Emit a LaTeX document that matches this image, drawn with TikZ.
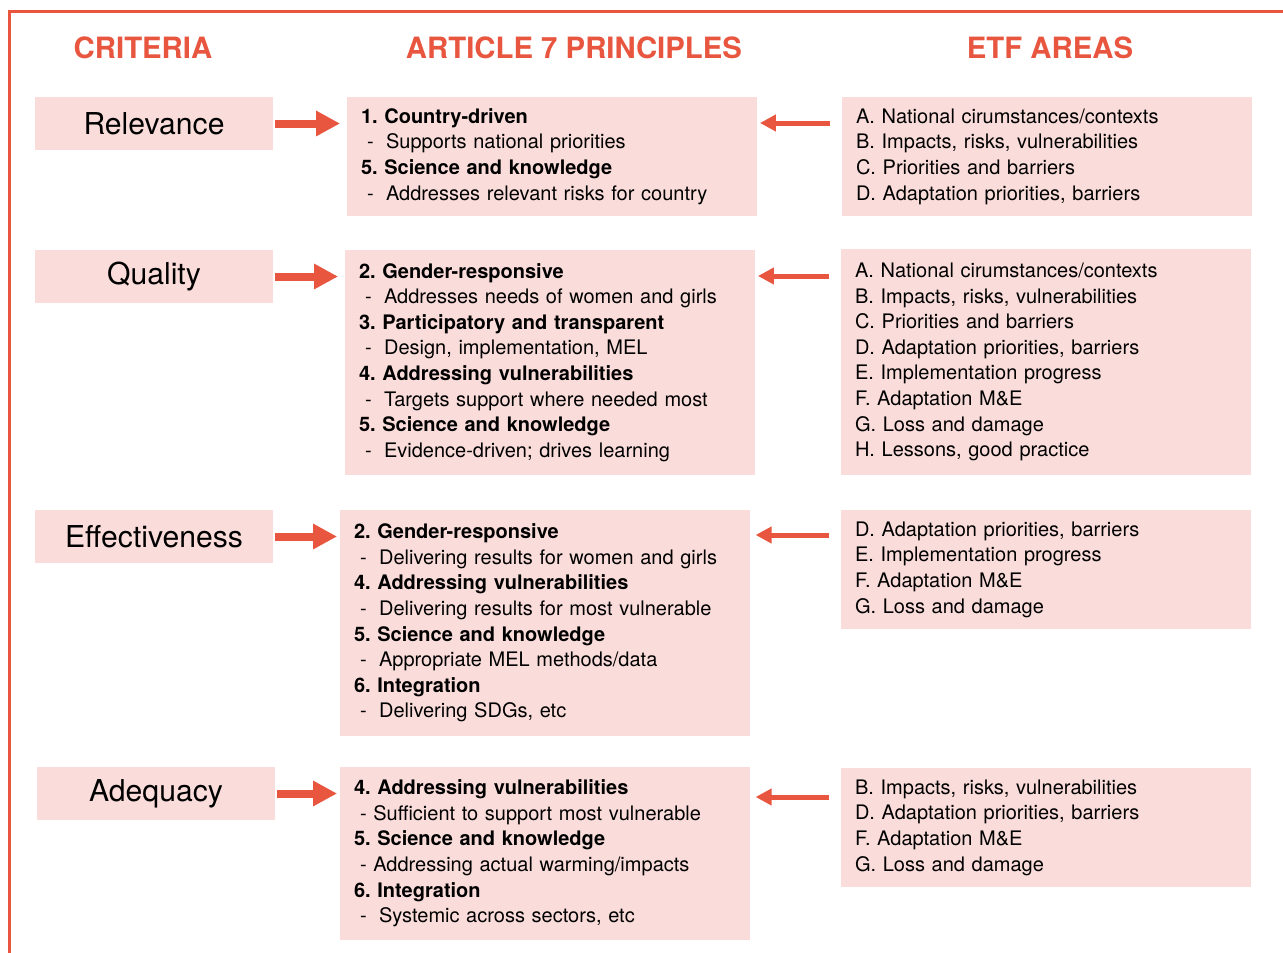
\documentclass[tikz,border=0pt]{standalone}
\usepackage{fontspec}
\setmainfont{TeX Gyre Heros}
\usetikzlibrary{arrows.meta}

\definecolor{etfred}{RGB}{232,86,64}
\definecolor{etfpink}{RGB}{250,221,218}

\newcommand{\itm}[1]{\hspace*{0.3em}-\hspace{0.62em}#1}
\newcommand{\itmb}[1]{\hspace*{0.3em}- #1}
\frenchspacing

\tikzset{
  head/.style={text=etfred, font=\fontsize{22}{26}\selectfont\bfseries},
  crit/.style={fill=etfpink, minimum width=178.5pt, minimum height=39.75pt,
    inner sep=0pt, font=\fontsize{22.6}{26}\selectfont},
  pbox/.style={fill=etfpink, text width=286.5pt, inner xsep=10.5pt, inner ysep=0pt,
    align=left, font=\fontsize{15}{19.2}\selectfont},
  bigarr/.style={draw=etfred, line width=6pt, -{Triangle[length=18pt,width=18pt]}},
  smallarr/.style={draw=etfred, line width=3.75pt, -{Triangle[length=12pt,width=12pt]}}
}

\begin{document}
\begin{tikzpicture}[x=0.75pt, y=-0.75pt]
  \useasboundingbox (0,0) rectangle (1283,953);
  \draw [etfred, line width=2.25pt] (9,953) -- (9,11) -- (1283,11);

  % column titles
  \node [head] (hcrit) at (143,48) {CRITERIA};
  \node [head] (hprin) at (574,48) {ARTICLE 7 PRINCIPLES};
  \node [head] (hetf) at (1050,48) {ETF AREAS};

  % criteria
  \node [crit] (r1) at (154,123.5) {Relevance};
  \node [crit] (r2) at (154,276.5) {Quality};
  \node [crit] (r3) at (154,536.5) {Effectiveness};
  \node [crit] (r4) at (156,793.5) {Adequacy};

  % principles
  \node [pbox, minimum height=89.25pt] (p1) at (552,156.5) {%
    \textbf{1. Country-driven}\\ \itm{Supports national priorities}\\
    \textbf{5. Science and knowledge}\\ \itm{Addresses relevant risks for country}};
  \node [pbox, minimum height=168.75pt] (p2) at (550,362.5) {%
    \textbf{2. Gender-responsive}\\ \itm{Addresses needs of women and girls}\\
    \textbf{3. Participatory and transparent}\\ \itm{Design, implementation, MEL}\\
    \textbf{4. Addressing vulnerabilities}\\ \itm{Targets support where needed most}\\
    \textbf{5. Science and knowledge}\\ \itm{Evidence-driven; drives learning}};
  \node [pbox, minimum height=169.5pt] (p3) at (545,623) {%
    \textbf{2. Gender-responsive}\\ \itm{Delivering results for women and girls}\\
    \textbf{4. Addressing vulnerabilities}\\ \itm{Delivering results for most vulnerable}\\
    \textbf{5. Science and knowledge}\\ \itm{Appropriate MEL methods/data}\\
    \textbf{6. Integration}\\ \itm{Delivering SDGs, etc}};
  \node [pbox, minimum height=129.75pt] (p4) at (545,853.5) {%
    \textbf{4. Addressing vulnerabilities}\\ \itmb{Sufficient to support most vulnerable}\\
    \textbf{5. Science and knowledge}\\ \itmb{Addressing actual warming/impacts}\\
    \textbf{6. Integration}\\ \itm{Systemic across sectors, etc}};

  % ETF areas
  \node [pbox, minimum height=89.25pt] (e1) at (1047,156.5) {%
    A. National cirumstances/contexts\\ B. Impacts, risks, vulnerabilities\\
    C. Priorities and barriers\\ D. Adaptation priorities, barriers};
  \node [pbox, minimum height=169.5pt] (e2) at (1046,362) {%
    A. National cirumstances/contexts\\ B. Impacts, risks, vulnerabilities\\
    C. Priorities and barriers\\ D. Adaptation priorities, barriers\\
    E. Implementation progress\\ F. Adaptation M\&E\\
    G. Loss and damage\\ H. Lessons, good practice};
  \node [pbox, minimum height=89.25pt] (e3) at (1046,569.5) {%
    D. Adaptation priorities, barriers\\ E. Implementation progress\\
    F. Adaptation M\&E\\ G. Loss and damage};
  \node [pbox, minimum height=89.25pt] (e4) at (1046,827.5) {%
    B. Impacts, risks, vulnerabilities\\ D. Adaptation priorities, barriers\\
    F. Adaptation M\&E\\ G. Loss and damage};

  % arrows
  \draw [bigarr, shorten <=1.5pt, shorten >=5pt] (r1.east) -- (r1.east -| p1.west);
  \draw [bigarr, shorten <=1.5pt, shorten >=5pt] (r2.east) -- (r2.east -| p2.west);
  \draw [bigarr, shorten <=1.5pt, shorten >=2pt] (r3.east) -- (r3.east -| p3.west);
  \draw [bigarr, shorten <=1.5pt, shorten >=2pt] (r4.east) -- (r4.east -| p4.west);

  \draw [smallarr, shorten <=9pt, shorten >=2pt] (e1.west |- 0,123) -- (p1.east |- 0,123);
  \draw [smallarr, shorten <=9pt, shorten >=2pt] (e2.west |- 0,276) -- (p2.east |- 0,276);
  \draw [smallarr, shorten <=9pt, shorten >=4pt] (e3.west |- 0,535) -- (p3.east |- 0,535);
  \draw [smallarr, shorten <=9pt, shorten >=4pt] (e4.west |- 0,797) -- (p4.east |- 0,797);
\end{tikzpicture}
\end{document}
